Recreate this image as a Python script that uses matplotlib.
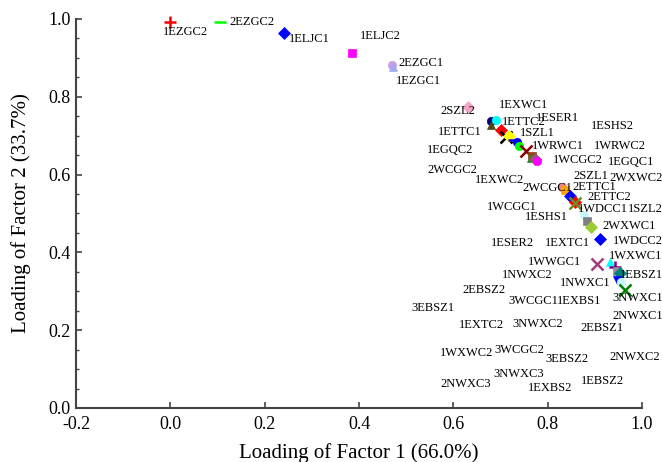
import numpy as np
import matplotlib.pyplot as plt

plt.rcParams['font.family'] = ['Liberation Serif', 'DejaVu Serif']

# factor loadings of each sample (x = factor 1, y = factor 2)
load_x = [0.000, 0.106, 0.242, 0.386, 0.469, 0.473, 0.631, 0.679, 0.679, 0.690,
          0.700, 0.711, 0.717, 0.729, 0.736, 0.740, 0.753, 0.767, 0.764, 0.774,
          0.778, 0.831, 0.836, 0.848, 0.857, 0.857, 0.876, 0.884, 0.892, 0.910,
          0.905, 0.933, 0.942, 0.947, 0.954, 0.948, 0.956, 0.963]
load_y = [0.992, 0.992, 0.964, 0.913, 0.882, 0.877, 0.775, 0.738, 0.728, 0.741,
          0.715, 0.697, 0.700, 0.689, 0.684, 0.674, 0.661, 0.649, 0.642, 0.640,
          0.635, 0.568, 0.560, 0.545, 0.530, 0.527, 0.496, 0.481, 0.466, 0.434,
          0.370, 0.376, 0.363, 0.353, 0.347, 0.329, 0.325, 0.303]

# sample labels and where they sit on the chart
labels = ['1EZGC2', '2EZGC2', '1ELJC1', '1ELJC2', '2EZGC1', '1EZGC1', '1EXWC1',
          '2SZL2', '1ESER1', '1ETTC2', '1ESHS2', '1ETTC1', '1SZL1', '1EGQC2',
          '1WRWC1', '1WRWC2', '1WCGC2', '1EGQC1', '2WCGC2', '2SZL1', '1EXWC2',
          '2WXWC2', '2WCGC1', '2ETTC1', '2ETTC2', '1WCGC1', '1WDCC1', '1SZL2',
          '1ESHS1', '2WXWC1', '1WDCC2', '1ESER2', '1EXTC1', '1WXWC1', '1WWGC1',
          '1EBSZ1', '1NWXC2', '1NWXC1', '2EBSZ2', '3NWXC1', '3WCGC1', '1EXBS1',
          '3EBSZ1', '2NWXC1', '1EXTC2', '3NWXC2', '2EBSZ1', '1WXWC2', '3WCGC2',
          '3EBSZ2', '2NWXC2', '3NWXC3', '2NWXC3', '1EXBS2', '1EBSZ2']
label_x = [-0.015, 0.125, 0.252, 0.403, 0.484, 0.479, 0.696,
           0.573, 0.776, 0.704, 0.891, 0.568, 0.742, 0.545,
           0.766, 0.899, 0.812, 0.927, 0.545, 0.855, 0.645,
           0.931, 0.747, 0.853, 0.884, 0.672, 0.865, 0.970,
           0.751, 0.916, 0.938, 0.679, 0.795, 0.929, 0.759,
           0.954, 0.704, 0.827, 0.619, 0.937, 0.717, 0.819,
           0.511, 0.937, 0.611, 0.725, 0.870, 0.571, 0.687,
           0.795, 0.931, 0.685, 0.573, 0.759, 0.870]
label_y = [0.967, 0.992, 0.949, 0.956, 0.887, 0.841, 0.779,
           0.763, 0.746, 0.735, 0.725, 0.710, 0.707, 0.663,
           0.674, 0.674, 0.638, 0.632, 0.612, 0.596, 0.586,
           0.591, 0.566, 0.568, 0.542, 0.517, 0.512, 0.512,
           0.491, 0.468, 0.429, 0.424, 0.424, 0.391, 0.375,
           0.342, 0.342, 0.321, 0.303, 0.283, 0.275, 0.275,
           0.257, 0.237, 0.213, 0.216, 0.206, 0.141, 0.149,
           0.126, 0.131, 0.087, 0.062, 0.051, 0.069]

# marker style for each point
markers = ['+', '_', 'D', 's', 'o', '^', 'D', 'o', '^', 'o',
           'D', 'x', 'D', '_', 'o', 'o', 'x', 's', '^', 'D',
           'o', 'o', 's', 'D', 'D', 'x', 'o', 's', 'D', 'D',
           'x', '^', '+', 's', 'D', 'v', 'o', 'x']
colors = ['red', 'lime', 'blue', 'magenta', '#c8a0e8', '#a0a8f0', '#f4a6c8',
          'navy', '#4a4a1a', 'cyan', 'red', 'black', 'yellow', 'blue', 'blue',
          'lime', '#8b0000', '#8b4513', '#228b22', '#a0507a', 'magenta',
          '#f08080', 'orange', 'blue', 'red', '#6b8e23', '#c8f8ff', 'gray',
          '#9acd32', 'blue', '#a03c78', 'cyan', 'purple', '#909090', 'teal',
          'blue', '#c8f8ff', 'green']

fig = plt.figure(figsize=(6.62, 4.62), dpi=100)
ax = fig.add_axes([0.1148, 0.1169, 0.855, 0.842])

for i in range(len(load_x)):
    m = markers[i]
    ms = 9 if m in ['+', 'x', '_'] else 6
    mew = 1.8 if m in ['+', 'x', '_'] else 0.5
    ax.plot(load_x[i], load_y[i], linestyle='none', marker=m, color=colors[i],
            markersize=ms, markeredgewidth=mew, clip_on=False, zorder=3)

for i in range(len(labels)):
    ax.text(label_x[i], label_y[i], labels[i], fontsize=9, ha='left', va='center')

ax.set_xlim(-0.2, 1.0)
ax.set_ylim(0.0, 1.0)
ax.set_xticks(np.arange(-0.2, 1.01, 0.2))
ax.set_xticklabels(['-0.2', '0.0', '0.2', '0.4', '0.6', '0.8', '1.0'])
ax.set_yticks(np.arange(0.0, 1.01, 0.2))
ax.set_yticklabels(['0.0', '0.2', '0.4', '0.6', '0.8', '1.0'])
ax.set_yticks(np.arange(0.0, 1.01, 0.05), minor=True)

ax.spines['top'].set_visible(False)
ax.spines['right'].set_visible(False)
for s in ['left', 'bottom']:
    ax.spines[s].set_color('#444444')
    ax.spines[s].set_linewidth(1.5)

ax.tick_params(which='major', direction='in', length=4, width=1.2,
               color='#444444', labelsize=13)
ax.tick_params(axis='x', which='major', pad=6)
ax.tick_params(axis='y', which='major', pad=4)
ax.tick_params(which='minor', direction='in', length=2.5, width=1,
               color='#444444')

ax.set_xlabel('Loading of Factor 1 (66.0%)', fontsize=15, labelpad=7)
ax.set_ylabel('Loading of Factor 2 (33.7%)', fontsize=15, labelpad=12)

plt.savefig('out.png', dpi=100)
